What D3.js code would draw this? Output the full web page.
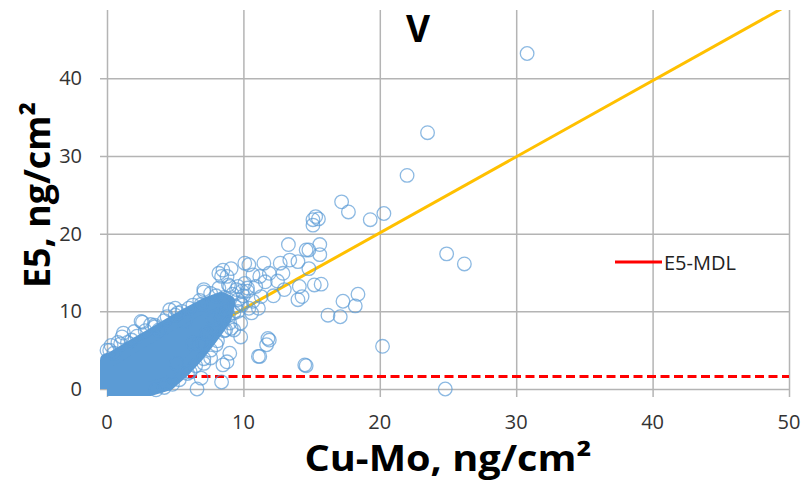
<!DOCTYPE html>
<html><head><meta charset="utf-8">
<script src="https://cdn.jsdelivr.net/npm/d3@7"></script>
<style>body{margin:0;background:#fff}svg{display:block}</style>
</head><body>
<svg id="c" width="806" height="480"></svg>
<script>
// ---- data ----
const xTicks = [0, 10, 20, 30, 40, 50];
const yTicks = [0, 10, 20, 30, 40];
const titleText = "V";
const xTitle = "Cu-Mo, ng/cm\u00B2";
const yTitle = "E5, ng/cm\u00B2";
const legendLabel = "E5-MDL";
const mdlValue = 1.6;              // E5 method detection limit
const fitSlope = 0.98, fitIntercept = 0.5;   // fitted line
// saturated (overlapping) core of the dense point cloud: outline of circle centres
const denseCore = [[0,0],[0,3.7],[0.37,3.9],[1.7,5.3],[3.15,6.8],[4.6,8.3],[6.1,9.8],[7.4,11.0],[8.4,11.6],[8.9,11.2],
  [8.6,9.0],[7.6,6.6],[6.6,4.3],[5.6,2.4],[4.5,0.7],[3.15,0],[0,0]];
// individual samples (Cu-Mo, E5)
const sampleX = [30.8,23.5,22.0,17.2,17.7,19.3,20.3,15.1,15.3,15.5,24.9,26.2,20.2,24.8,15.1,15.6,14.8,15.6,14.8,15.2,15.7,14.3,17.3,18.4,18.2,16.2,17.1,14.6,
  13.3,14.6,14.0,8.5,10.4,11.5,12.7,13.4,7.1,8.8,11.2,11.9,12.9,14.1,4.6,14.0,11.9,11.7,11.2,14.5,8.8,9.0,9.8,6.6,8.4,6.9,8.9,9.3,8.7,8.4,8.9,10.1,10.7,9.9,10.6,10.7,9.8,8.0,8.5,7.6,6.7,7.1,6.1,5.1,
  2.5,1.1,0.0,3.8,7.1,10.9,11.6,11.3,11.1,11.8,11.1,6.3,5.7,7.4,9.1,9.6,10.4,8.2,9.1,10.1,9.6,5.0,1.8,1.2,2.6,3.5,
  0.2,0.5,1.0,1.5,2.2,2.8,3.5,4.2,5.0,5.5,6.3,6.8,7.6,8.2,9.0,9.5,10.0,9.8,9.3,9.0,8.6,8.1,7.6,7.1,6.5,5.9,5.3,4.8,4.2,3.6,12.2,12.5,13.0,10.3,
  8.0,8.6,9.2,9.6,9.9,10.3,8.8,9.4,7.8,8.3,7.3,7.0,7.9,6.9,6.0,5.2,4.4,3.2,2.0,0.8,0.3];
const sampleY = [43.2,33.0,27.5,24.1,22.8,21.8,22.6,21.8,22.2,21.9,17.4,16.1,5.5,0.0,21.1,18.6,17.9,17.3,15.5,13.4,13.5,11.9,11.3,12.2,10.7,9.5,9.3,3.0,
  18.6,17.9,16.4,15.3,16.0,16.2,16.2,16.6,12.8,14.5,14.5,14.9,14.9,13.2,10.2,11.5,6.3,5.7,4.2,3.1,3.5,4.6,6.7,0.0,0.9,1.4,9.5,7.6,7.6,14.5,13.4,13.6,14.7,10.8,9.8,11.3,8.5,5.7,3.1,4.0,5.7,3.3,2.2,3.3,
  8.7,6.7,5.0,7.6,12.5,13.2,13.8,11.9,10.4,6.5,4.2,5.9,8.7,7.0,7.8,10.0,10.4,14.9,15.5,16.2,13.2,10.4,6.3,7.2,8.6,8.0,
  5.0,4.6,5.8,6.0,6.8,7.5,8.2,8.8,9.5,10.0,10.8,11.4,12.3,13.0,13.2,12.8,12.0,11.0,9.8,8.5,7.5,6.2,5.0,3.9,3.0,2.0,1.2,0.6,0.2,-0.1,12.0,13.9,12.8,12.6,
  12.0,11.8,12.2,11.5,12.6,13.0,10.2,10.6,9.0,9.6,7.2,6.0,7.8,10.9,10.4,9.8,9.3,8.3,7.4,6.0,5.6];

// ---- drawing ----
const svg = d3.select("#c");
const x = d3.scaleLinear().domain([0, 50]).range([107, 789]);
const y = d3.scaleLinear().domain([0, 48.8]).range([389, 10]);
const font = "'Open Sans', 'Liberation Sans', sans-serif";
const gridCol = "#b4b4b4";

svg.append("defs").append("clipPath").attr("id", "plot")
  .append("rect").attr("x", 107).attr("y", 10).attr("width", 682).attr("height", 379);

// grid + outward ticks
const gx = svg.append("g").attr("transform", "translate(0,389)")
  .call(d3.axisBottom(x).tickValues(xTicks).tickSize(-379).tickSizeOuter(0).tickFormat(""));
gx.select(".domain").remove();
gx.selectAll("line").attr("stroke", gridCol).attr("stroke-width", 1.5).attr("y2", -379).attr("y1", 8);
const gy = svg.append("g").attr("transform", "translate(107,0)")
  .call(d3.axisLeft(y).tickValues(yTicks).tickSize(-682).tickSizeOuter(0).tickFormat(""));
gy.select(".domain").remove();
gy.selectAll("line").attr("stroke", gridCol).attr("stroke-width", 1.5).attr("x2", 682).attr("x1", -7);

// tick labels
svg.append("g").selectAll("text").data(xTicks).join("text")
  .attr("x", d => x(d)).attr("y", 429).attr("text-anchor", "middle")
  .attr("font-family", font).attr("font-size", 20).attr("fill", "#333").text(d => d);
svg.append("g").selectAll("text").data(yTicks).join("text")
  .attr("x", 82).attr("y", d => y(d) + 7).attr("text-anchor", "end")
  .attr("font-family", font).attr("font-size", 20).attr("fill", "#333").text(d => d);

const plot = svg.append("g").attr("clip-path", "url(#plot)");
// MDL dashed line
plot.append("line").attr("x1", x(0)).attr("x2", x(50)).attr("y1", y(mdlValue)).attr("y2", y(mdlValue))
  .attr("stroke", "#ff0000").attr("stroke-width", 3).attr("stroke-dasharray", "9,4.5");
// fitted line
plot.append("line").attr("x1", x(0)).attr("y1", y(fitIntercept))
  .attr("x2", x(50)).attr("y2", y(fitSlope * 50 + fitIntercept))
  .attr("stroke", "#ffc000").attr("stroke-width", 3);

// dense core
svg.append("path").datum(denseCore)
  .attr("d", d3.line().x(d => x(d[0])).y(d => y(d[1])))
  .attr("fill", "#5b9bd5").attr("stroke", "#5b9bd5").attr("stroke-width", 14)
  .attr("stroke-linejoin", "round");

// samples
svg.append("g").selectAll("circle").data(sampleX.map((v, i) => [v, sampleY[i]])).join("circle")
  .attr("cx", d => x(d[0])).attr("cy", d => y(d[1])).attr("r", 6.8)
  .attr("fill", "none").attr("stroke", "#5b9bd5").attr("stroke-opacity", 0.7).attr("stroke-width", 1.3);

// legend
svg.append("line").attr("x1", 615).attr("x2", 662).attr("y1", 262).attr("y2", 262)
  .attr("stroke", "#ff0000").attr("stroke-width", 3);
svg.append("text").attr("x", 664).attr("y", 270).attr("font-family", font).attr("font-size", 20)
  .attr("fill", "#222").text(legendLabel);

// titles
svg.append("text").attr("x", 418).attr("y", 42).attr("text-anchor", "middle")
  .attr("font-family", font).attr("font-weight", "bold").attr("font-size", 37).attr("fill", "#000").text(titleText);
svg.append("text").attr("x", 448).attr("y", 471).attr("text-anchor", "middle")
  .attr("font-family", font).attr("font-weight", "bold").attr("font-size", 35).attr("fill", "#000")
  .attr("textLength", 287).attr("lengthAdjust", "spacingAndGlyphs").text(xTitle);
svg.append("text").attr("transform", "translate(50,195) rotate(-90)").attr("text-anchor", "middle")
  .attr("font-family", font).attr("font-weight", "bold").attr("font-size", 36).attr("fill", "#000")
  .attr("textLength", 186).attr("lengthAdjust", "spacingAndGlyphs").text(yTitle);
</script>
</body></html>
